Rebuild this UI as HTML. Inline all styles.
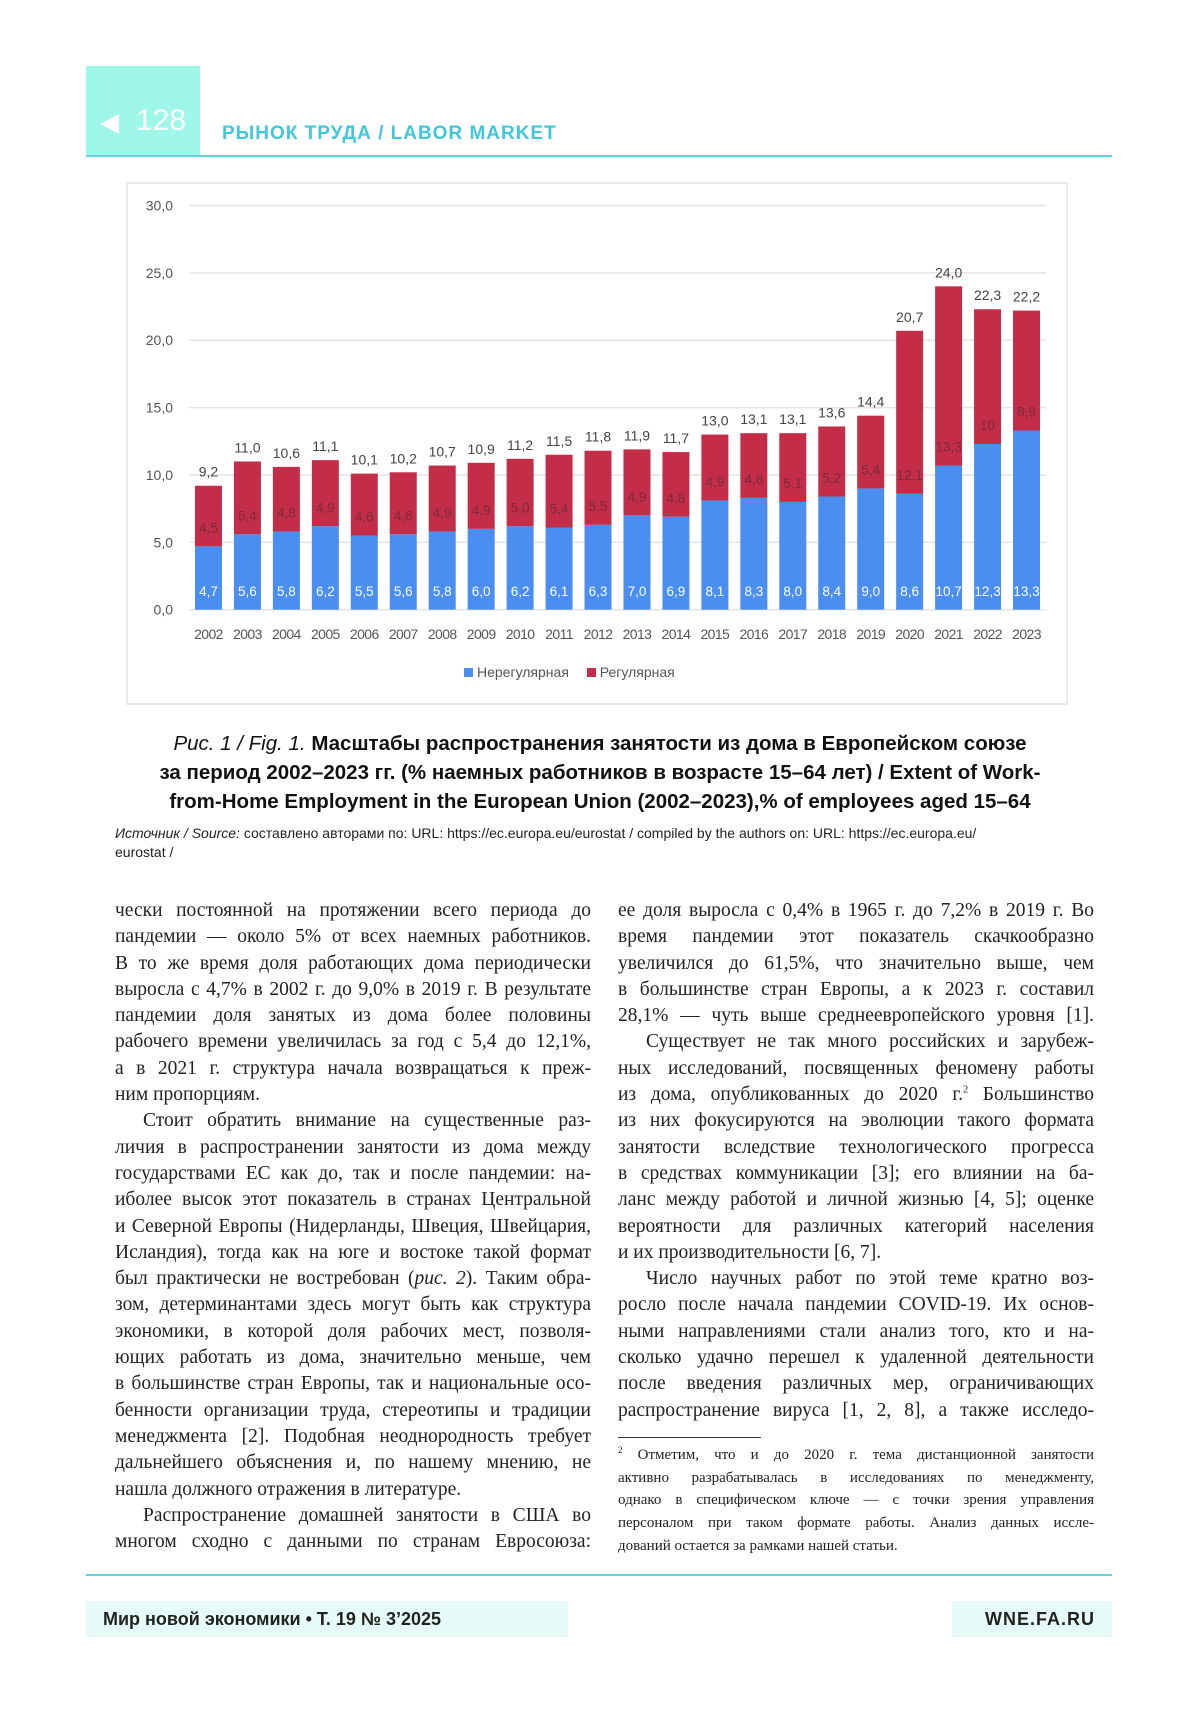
<!DOCTYPE html>
<html><head><meta charset="utf-8">
<style>
body{margin:0;width:1200px;height:1714px;background:#fff;position:relative;overflow:hidden;font-family:"Liberation Sans",sans-serif;}
.abs{position:absolute;}
.col{position:absolute;width:476px;font-family:"Liberation Serif",serif;font-size:19.5px;color:#222;}
.col div{height:26.3px;line-height:26.3px;text-align:justify;text-align-last:justify;white-space:nowrap;overflow:visible;}
.col div.l{text-align-last:left;}
.col div.i{padding-left:28px;}
.fn{position:absolute;left:618px;width:476px;font-family:"Liberation Serif",serif;font-size:15px;color:#222;}
.fn div{height:22.7px;line-height:22.7px;text-align:justify;text-align-last:justify;white-space:nowrap;}
.cap{position:absolute;left:100px;width:1000px;text-align:center;font-size:20.5px;font-weight:bold;color:#111;line-height:29px;}
</style></head><body>
<div class="abs" style="left:86px;top:66px;width:114px;height:90px;background:#9ff7ea;"></div>
<div class="abs" style="left:100px;top:114px;width:0;height:0;border-top:10px solid transparent;border-bottom:10px solid transparent;border-right:19px solid #fff;"></div>
<div class="abs" style="left:136px;top:104px;font-size:30px;color:#fff;">128</div>
<div class="abs" style="left:222px;top:123px;font-size:19px;font-weight:bold;color:#3fc8d8;letter-spacing:1px;">РЫНОК ТРУДА / LABOR MARKET</div>
<div class="abs" style="left:86px;top:155px;width:1026px;height:2px;background:#5fd3e0;"></div>

<svg class="abs" style="left:0;top:0" width="1200" height="720" id="chart">
<rect x="127" y="183" width="940" height="521" fill="#fff" stroke="#e2e2e2" stroke-width="1.5"/>
</svg>
<script>
const years=['2002','2003','2004','2005','2006','2007','2008','2009','2010','2011','2012','2013','2014','2015','2016','2017','2018','2019','2020','2021','2022','2023'];
const nonreg=[4.7,5.6,5.8,6.2,5.5,5.6,5.8,6.0,6.2,6.1,6.3,7.0,6.9,8.1,8.3,8.0,8.4,9.0,8.6,10.7,12.3,13.3];
const reg=[4.5,5.4,4.8,4.9,4.6,4.6,4.9,4.9,5.0,5.4,5.5,4.9,4.8,4.9,4.8,5.1,5.2,5.4,12.1,13.3,10,8.9];
const totals=[9.2,11.0,10.6,11.1,10.1,10.2,10.7,10.9,11.2,11.5,11.8,11.9,11.7,13.0,13.1,13.1,13.6,14.4,20.7,24.0,22.3,22.2];
const yTicks=[0,5,10,15,20,25,30];
const svg=document.getElementById('chart');
const NS='http://www.w3.org/2000/svg';
const x0=189,x1=1046,yBase=609.7,yTop=205.5,yMax=30;
const band=(x1-x0)/years.length,bw=27;
function y(v){return yBase-(v/yMax)*(yBase-yTop);}
function xc(i){return x0+band*(i+0.5);}
function mk(t,a){const e=document.createElementNS(NS,t);for(const k in a)e.setAttribute(k,a[k]);svg.appendChild(e);return e;}
function fmt(v,raw){return raw===10?'10':v.toFixed(1).replace('.',',');}
yTicks.forEach(t=>{
 const g=mk('line',{x1:x0,x2:x1,y1:y(t),y2:y(t),stroke:'#e4e4e4','stroke-width':1.5});
 
 
 const l=mk('text',{x:173,y:y(t)+5,'text-anchor':'end','font-size':14,fill:'#555','font-family':'Liberation Sans'});
 l.textContent=t.toFixed(1).replace('.',',');
 
 
});
years.forEach((yr,i)=>{
 const cx=xc(i);
 const b=mk('rect',{x:cx-bw/2,y:y(nonreg[i]),width:bw,height:y(0)-y(nonreg[i]),fill:'#4a8ef2'});
 
 
 const r=mk('rect',{x:cx-bw/2,y:y(nonreg[i]+reg[i]),width:bw,height:y(nonreg[i])-y(nonreg[i]+reg[i]),fill:'#c42d48'});
 
 
 const t1=mk('text',{x:cx,y:y(1.4)+5,'text-anchor':'middle','font-size':13.5,fill:'#fff'});
 t1.textContent=fmt(nonreg[i]);
 
 
 const t2=mk('text',{x:cx,y:y(nonreg[i]+1.4)+5,'text-anchor':'middle','font-size':13.5,fill:'#7a2a3a'});
 t2.textContent=fmt(reg[i],reg[i]);
 
 
 const t3=mk('text',{x:cx,y:y(totals[i])-9,'text-anchor':'middle','font-size':14,fill:'#444'});
 t3.textContent=fmt(totals[i]);
 
 
 const xl=mk('text',{x:cx,y:639,'text-anchor':'middle','font-size':14,fill:'#555','letter-spacing':'-0.6'});
 xl.textContent=yr;
 
 
});
</script>
<div class="abs" style="left:464px;top:664px;font-size:14px;color:#555;">
<span><span style="display:inline-block;width:9px;height:9px;background:#4a8ef2;margin-right:4px;"></span>Нерегулярная</span>
<span style="margin-left:14px;"><span style="display:inline-block;width:9px;height:9px;background:#c42d48;margin-right:4px;"></span>Регулярная</span>
</div>

<div class="cap" style="top:729px;">
<div><span style="font-weight:normal;font-style:italic;">Рис. 1 / Fig. 1.</span> Масштабы распространения занятости из дома в Европейском союзе</div>
<div>за период 2002–2023 гг. (% наемных работников в возрасте 15–64 лет) / Extent of Work-</div>
<div>from-Home Employment in the European Union (2002–2023),% of employees aged 15–64</div>
</div>
<div class="abs" style="left:115px;top:824px;width:960px;font-size:14px;line-height:19px;color:#222;">
<i>Источник / Source:</i> составлено авторами по: URL: https://ec.europa.eu/eurostat / compiled by the authors on: URL: https://ec.europa.eu/<br>eurostat /</div>

<div class="col" style="left:115px;top:898px;">
<div>чески постоянной на протяжении всего периода до</div>
<div>пандемии — около 5% от всех наемных работников.</div>
<div>В то же время доля работающих дома периодически</div>
<div>выросла с 4,7% в 2002 г. до 9,0% в 2019 г. В результате</div>
<div>пандемии доля занятых из дома более половины</div>
<div>рабочего времени увеличилась за год с 5,4 до 12,1%,</div>
<div>а в 2021 г. структура начала возвращаться к преж-</div>
<div class="l">ним пропорциям.</div>
<div class="i">Стоит обратить внимание на существенные раз-</div>
<div>личия в распространении занятости из дома между</div>
<div>государствами ЕС как до, так и после пандемии: на-</div>
<div>иболее высок этот показатель в странах Центральной</div>
<div>и Северной Европы (Нидерланды, Швеция, Швейцария,</div>
<div>Исландия), тогда как на юге и востоке такой формат</div>
<div>был практически не востребован (<i>рис. 2</i>). Таким обра-</div>
<div>зом, детерминантами здесь могут быть как структура</div>
<div>экономики, в которой доля рабочих мест, позволя-</div>
<div>ющих работать из дома, значительно меньше, чем</div>
<div>в большинстве стран Европы, так и национальные осо-</div>
<div>бенности организации труда, стереотипы и традиции</div>
<div>менеджмента [2]. Подобная неоднородность требует</div>
<div>дальнейшего объяснения и, по нашему мнению, не</div>
<div class="l">нашла должного отражения в литературе.</div>
<div class="i">Распространение домашней занятости в США во</div>
<div>многом сходно с данными по странам Евросоюза:</div>
</div>

<div class="col" style="left:618px;top:898px;">
<div>ее доля выросла с 0,4% в 1965 г. до 7,2% в 2019 г. Во</div>
<div>время пандемии этот показатель скачкообразно</div>
<div>увеличился до 61,5%, что значительно выше, чем</div>
<div>в большинстве стран Европы, а к 2023 г. составил</div>
<div>28,1% — чуть выше среднеевропейского уровня [1].</div>
<div class="i">Существует не так много российских и зарубеж-</div>
<div>ных исследований, посвященных феномену работы</div>
<div>из дома, опубликованных до 2020 г.<sup style="font-size:10px;line-height:0">2</sup> Большинство</div>
<div>из них фокусируются на эволюции такого формата</div>
<div>занятости вследствие технологического прогресса</div>
<div>в средствах коммуникации [3]; его влиянии на ба-</div>
<div>ланс между работой и личной жизнью [4, 5]; оценке</div>
<div>вероятности для различных категорий населения</div>
<div class="l">и их производительности [6, 7].</div>
<div class="i">Число научных работ по этой теме кратно воз-</div>
<div>росло после начала пандемии COVID-19. Их основ-</div>
<div>ными направлениями стали анализ того, кто и на-</div>
<div>сколько удачно перешел к удаленной деятельности</div>
<div>после введения различных мер, ограничивающих</div>
<div>распространение вируса [1, 2, 8], а также исследо-</div>
</div>

<div class="abs" style="left:618px;top:1437px;width:143px;height:1px;background:#333;"></div>
<div class="fn" style="top:1444px;">
<div><sup style="font-size:9px;line-height:0">2</sup> Отметим, что и до 2020 г. тема дистанционной занятости</div>
<div>активно разрабатывалась в исследованиях по менеджменту,</div>
<div>однако в специфическом ключе — с точки зрения управления</div>
<div>персоналом при таком формате работы. Анализ данных иссле-</div>
<div style="text-align-last:left">дований остается за рамками нашей статьи.</div>
</div>

<div class="abs" style="left:86px;top:1574px;width:1026px;height:2px;background:#5fd3e0;"></div>
<div class="abs" style="left:86px;top:1601px;width:482px;height:36px;background:#e6fbf7;font-size:18px;font-weight:bold;color:#222;line-height:36px;padding-left:17px;box-sizing:border-box;">Мир новой экономики • Т. 19 № 3’2025</div>
<div class="abs" style="left:952px;top:1601px;width:160px;height:36px;background:#e6fbf7;font-size:18px;font-weight:bold;color:#222;line-height:36px;text-align:right;padding-right:17px;box-sizing:border-box;letter-spacing:1px;">WNE.FA.RU</div>
</body></html>
